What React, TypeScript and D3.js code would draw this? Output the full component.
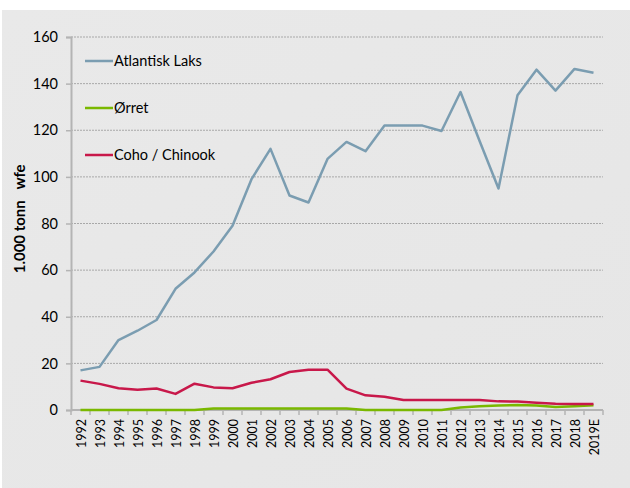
import React, { useEffect, useRef } from 'react';
import * as d3 from 'd3';

const years = ['1992', '1993', '1994', '1995', '1996', '1997', '1998', '1999', '2000', '2001',
  '2002', '2003', '2004', '2005', '2006', '2007', '2008', '2009', '2010', '2011',
  '2012', '2013', '2014', '2015', '2016', '2017', '2018', '2019E'];

const atlantiskLaks = [17, 18.5, 30, 34, 38.6, 52, 59, 68, 79, 99,
  112, 92, 89, 107.7, 115, 111, 122, 122, 122, 119.7,
  136.4, 115.5, 95, 135, 146, 137, 146.3, 144.7];

const orret = [0, 0, 0, 0, 0, 0, 0, 0.6, 0.6, 0.6,
  0.6, 0.6, 0.6, 0.6, 0.6, 0, 0, 0, 0, 0,
  1.1, 1.6, 1.9, 2.1, 1.9, 1.3, 1.6, 2.0];

const cohoChinook = [12.6, 11.2, 9.3, 8.7, 9.2, 6.9, 11.3, 9.7, 9.3, 11.7,
  13.2, 16.3, 17.3, 17.3, 9.2, 6.3, 5.7, 4.3, 4.3, 4.3,
  4.3, 4.3, 3.7, 3.6, 3.1, 2.7, 2.6, 2.6];

const yTicks = [0, 20, 40, 60, 80, 100, 120, 140, 160];

const series = [
  { name: 'Atlantisk Laks', values: atlantiskLaks, color: '#7b9db1' },
  { name: 'Ørret', values: orret, color: '#7ab800' },
  { name: 'Coho / Chinook', values: cohoChinook, color: '#c8184a' },
];

const FONT = 'Lato, "Open Sans", sans-serif';

const App = () => {
  const svgRef = useRef(null);

  useEffect(() => {
    const W = 630, H = 488;
    const margin = { top: 37, right: 27, bottom: 78, left: 71 };
    const width = W - margin.left - margin.right;
    const height = H - margin.top - margin.bottom;

    const root = d3.select(svgRef.current);
    root.selectAll('*').remove();

    // panel background
    const defs = root.append('defs');
    const grad = defs.append('linearGradient').attr('id', 'bg').attr('x1', 0).attr('y1', 0).attr('x2', 1).attr('y2', 1);
    grad.append('stop').attr('offset', '0%').attr('stop-color', '#e9e9e9');
    grad.append('stop').attr('offset', '100%').attr('stop-color', '#e6e6e6');
    root.append('rect').attr('width', W).attr('height', H).attr('fill', '#ffffff');
    root.append('rect').attr('x', 2).attr('y', 10).attr('width', W - 2).attr('height', H - 10).attr('fill', 'url(#bg)');

    const svg = root.append('g').attr('transform', `translate(${margin.left},${margin.top})`);

    const x = d3.scaleBand().domain(years).range([0, width]);
    const y = d3.scaleLinear().domain([0, 160]).range([height, 0]);

    // gridlines
    svg.append('g')
      .selectAll('line')
      .data(yTicks.filter(d => d > 0))
      .join('line')
      .attr('x1', 0)
      .attr('x2', width)
      .attr('y1', d => y(d))
      .attr('y2', d => y(d))
      .attr('stroke', '#a8a8a8')
      .attr('stroke-width', 1)
      .attr('stroke-dasharray', '2,1');

    // y axis
    const yAxis = svg.append('g')
      .call(d3.axisLeft(y).tickValues(yTicks).tickSize(5).tickPadding(8));
    yAxis.select('.domain').attr('stroke', '#b4b4b4').attr('stroke-width', 2);
    yAxis.selectAll('.tick line').attr('stroke', '#b4b4b4').attr('stroke-width', 1.5);
    yAxis.selectAll('.tick text')
      .style('font-family', FONT)
      .style('font-size', '14.5px')
      .attr('fill', '#000');

    // x axis
    const xAxis = svg.append('g').attr('transform', `translate(0,${height})`);
    xAxis.append('line')
      .attr('x1', 0).attr('x2', width)
      .attr('stroke', '#b4b4b4').attr('stroke-width', 2);
    xAxis.selectAll('line.tk')
      .data(d3.range(years.length + 1))
      .join('line')
      .attr('class', 'tk')
      .attr('x1', i => i * x.bandwidth())
      .attr('x2', i => i * x.bandwidth())
      .attr('y1', 0).attr('y2', 5)
      .attr('stroke', '#b4b4b4').attr('stroke-width', 1.5);
    xAxis.selectAll('text')
      .data(years)
      .join('text')
      .attr('transform', d => `translate(${x(d) + x.bandwidth() / 2 + 5.5},9) rotate(-90)`)
      .attr('text-anchor', 'end')
      .style('font-family', FONT)
      .style('font-size', '12.5px')
      .attr('fill', '#000')
      .text(d => d);

    // y label
    svg.append('text')
      .attr('transform', `translate(${-46},${y(82)}) rotate(-90)`)
      .attr('text-anchor', 'middle')
      .attr('xml:space', 'preserve')
      .style('font-family', FONT)
      .style('font-size', '15px')
      .style('font-weight', 'bold')
      .style('white-space', 'pre')
      .attr('fill', '#000')
      .text('1.000 tonn   wfe');

    // lines
    const line = d3.line()
      .x((d, i) => x(years[i]) + x.bandwidth() / 2)
      .y(d => y(d));

    svg.append('g')
      .selectAll('path')
      .data([series[1], series[2], series[0]])
      .join('path')
      .attr('d', d => line(d.values))
      .attr('fill', 'none')
      .attr('stroke', d => d.color)
      .attr('stroke-width', 2.5)
      .attr('stroke-linejoin', 'round');

    // legend
    const legend = svg.append('g').attr('transform', `translate(14, 24)`);
    const item = legend.selectAll('g')
      .data(series)
      .join('g')
      .attr('transform', (d, i) => `translate(0, ${i * 47})`);
    item.append('line')
      .attr('x1', 0).attr('x2', 28)
      .attr('stroke', d => d.color)
      .attr('stroke-width', 2.5);
    item.append('text')
      .attr('x', 29)
      .attr('y', 5)
      .style('font-family', FONT)
      .style('font-size', '14.5px')
      .attr('fill', '#000')
      .text(d => d.name);
  }, []);

  return (
    <svg ref={svgRef} width={630} height={488}
      style={{ position: 'absolute', left: 0, top: 0, display: 'block' }} />
  );
};

export default App;
